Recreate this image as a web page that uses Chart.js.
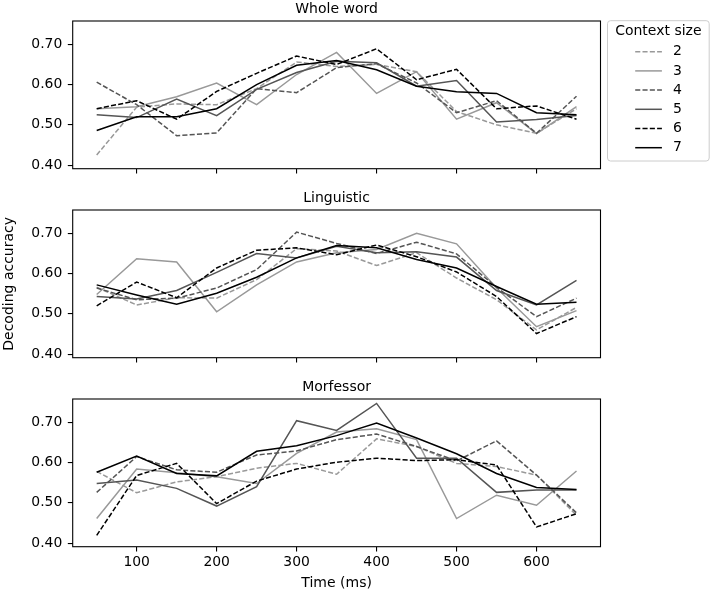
<!doctype html>
<html>
<head>
<title>Decoding accuracy by context size</title>
<script src="https://cdn.jsdelivr.net/npm/chart.js@4"></script>
<style>
  body { margin: 0; background: #fff; }
  #holder { position: relative; width: 711px; height: 592px; }
  #holder canvas { position: absolute; left: 0; }
</style>
</head>
<body>
<div id="holder">
  <canvas id="whole" width="711" height="189" style="top:0px"></canvas>
  <canvas id="ling" width="711" height="189" style="top:189px"></canvas>
  <canvas id="morf" width="711" height="214" style="top:378px"></canvas>
</div>

<script>
// x positions (ms) and tick values
const timesMs = [50, 100, 150, 200, 250, 300, 350, 400, 450, 500, 550, 600, 650];
const xTicks = [100, 200, 300, 400, 500, 600];
const yTicks = [0.40, 0.50, 0.60, 0.70];
const contextSizes = ['2', '3', '4', '5', '6', '7'];

// one row per context size (2..7)
const wholeWord = [
  [0.425, 0.544, 0.552, 0.550, 0.590, 0.656, 0.645, 0.650, 0.632, 0.533, 0.500, 0.479, 0.540],
  [0.540, 0.545, 0.570, 0.604, 0.550, 0.625, 0.680, 0.578, 0.632, 0.514, 0.555, 0.478, 0.545],
  [0.606, 0.550, 0.473, 0.480, 0.590, 0.580, 0.642, 0.652, 0.604, 0.530, 0.560, 0.479, 0.571],
  [0.525, 0.518, 0.564, 0.523, 0.588, 0.630, 0.658, 0.654, 0.596, 0.610, 0.507, 0.513, 0.523],
  [0.540, 0.560, 0.514, 0.583, 0.628, 0.671, 0.650, 0.689, 0.612, 0.638, 0.540, 0.547, 0.514],
  [0.486, 0.520, 0.520, 0.540, 0.600, 0.648, 0.660, 0.637, 0.596, 0.582, 0.578, 0.530, 0.525]
];
const linguistic = [
  [0.566, 0.522, 0.540, 0.539, 0.585, 0.662, 0.656, 0.620, 0.652, 0.589, 0.535, 0.460, 0.516],
  [0.548, 0.637, 0.629, 0.505, 0.572, 0.629, 0.652, 0.660, 0.700, 0.674, 0.564, 0.468, 0.508],
  [0.564, 0.535, 0.539, 0.564, 0.610, 0.703, 0.675, 0.650, 0.678, 0.649, 0.566, 0.493, 0.539],
  [0.543, 0.537, 0.558, 0.603, 0.650, 0.639, 0.668, 0.652, 0.654, 0.641, 0.558, 0.522, 0.583],
  [0.520, 0.579, 0.540, 0.614, 0.658, 0.664, 0.647, 0.671, 0.642, 0.604, 0.543, 0.451, 0.493],
  [0.572, 0.547, 0.524, 0.551, 0.591, 0.639, 0.670, 0.664, 0.635, 0.614, 0.568, 0.524, 0.529]
];
const morfessor = [
  [0.578, 0.525, 0.552, 0.565, 0.586, 0.598, 0.571, 0.659, 0.640, 0.598, 0.590, 0.569, 0.469],
  [0.461, 0.584, 0.575, 0.565, 0.548, 0.623, 0.676, 0.684, 0.657, 0.461, 0.519, 0.494, 0.579],
  [0.526, 0.615, 0.582, 0.576, 0.619, 0.629, 0.657, 0.671, 0.640, 0.604, 0.654, 0.569, 0.475],
  [0.548, 0.557, 0.536, 0.492, 0.540, 0.704, 0.680, 0.747, 0.611, 0.611, 0.526, 0.532, 0.532],
  [0.419, 0.568, 0.598, 0.498, 0.554, 0.584, 0.601, 0.611, 0.605, 0.607, 0.594, 0.440, 0.473],
  [0.576, 0.616, 0.573, 0.567, 0.628, 0.642, 0.667, 0.698, 0.661, 0.622, 0.573, 0.538, 0.533]
];

const lineColors = ['#999999', '#999999', '#555555', '#555555', '#000000', '#000000'];
const dashed = [true, false, true, false, true, false];
const DASH = [5.1, 2.2];
const FONT = 'DejaVu Sans';

// axes box (matplotlib draws all four spines)
const frame = {
  id: 'frame',
  afterDatasetsDraw(chart) {
    const {ctx, chartArea: a} = chart;
    ctx.save();
    ctx.strokeStyle = '#000';
    ctx.lineWidth = 1.1;
    ctx.strokeRect(a.left, a.top, a.right - a.left, a.bottom - a.top);
    ctx.restore();
  }
};

// legend outside the axes, upper right
const legendBox = {
  id: 'legendBox',
  afterDraw(chart) {
    const {ctx, chartArea: a} = chart;
    const x0 = a.right + 7, y0 = a.top - 0.3, w = 101.7, h = 140.3;
    ctx.save();
    ctx.beginPath();
    ctx.roundRect(x0, y0, w, h, 3);
    ctx.fillStyle = 'rgba(255,255,255,0.8)';
    ctx.fill();
    ctx.strokeStyle = '#cccccc';
    ctx.lineWidth = 1;
    ctx.stroke();
    ctx.fillStyle = '#000';
    ctx.font = '14px "' + FONT + '"';
    ctx.textBaseline = 'middle';
    ctx.textAlign = 'center';
    ctx.fillText('Context size', x0 + w / 2, y0 + 11);
    ctx.textAlign = 'left';
    chart.data.datasets.forEach((ds, i) => {
      const y = y0 + 31 + i * 19.2;
      ctx.beginPath();
      ctx.setLineDash(ds.borderDash || []);
      ctx.strokeStyle = ds.borderColor;
      ctx.lineWidth = ds.borderWidth;
      ctx.moveTo(x0 + 27.7, y);
      ctx.lineTo(x0 + 54.4, y);
      ctx.stroke();
      ctx.setLineDash([]);
      ctx.fillText(ds.label, x0 + 65.4, y);
    });
    ctx.restore();
  }
};

function makePanel(id, title, rows, opt) {
  const datasets = rows.map((vals, i) => ({
    label: contextSizes[i],
    data: vals.map((v, j) => ({x: timesMs[j], y: v})),
    borderColor: lineColors[i],
    borderWidth: 1.5,
    borderDash: dashed[i] ? DASH : [],
    pointRadius: 0,
    tension: 0,
    fill: false,
    order: rows.length - i
  }));
  const tickFont = {family: FONT, size: 13.9};
  return new Chart(document.getElementById(id), {
    type: 'line',
    data: {datasets},
    plugins: opt.legend ? [frame, legendBox] : [frame],
    options: {
      responsive: false,
      animation: false,
      layout: {padding: {left: 0, right: 110.5, top: 0, bottom: 0}},
      plugins: {
        legend: {display: false},
        tooltip: {enabled: false},
        title: {
          display: true,
          text: title,
          color: '#000',
          fullSize: false,
          font: {family: FONT, size: 14, weight: 'normal'},
          padding: {top: 0.8, bottom: 3.4}
        }
      },
      scales: {
        x: {
          type: 'linear',
          min: 20,
          max: 680,
          afterBuildTicks: s => { s.ticks = xTicks.map(v => ({value: v})); },
          afterFit: s => { s.height = opt.xHeight; },
          border: {display: false},
          grid: {drawOnChartArea: false, drawTicks: true, tickLength: 4.9, color: '#000', lineWidth: 1.1},
          ticks: {display: !!opt.xLabels, color: '#000', padding: 2, maxRotation: 0, autoSkip: false, font: tickFont},
          title: {
            display: !!opt.xLabels,
            text: 'Time (ms)',
            color: '#000',
            font: {family: FONT, size: 14},
            padding: {top: 0, bottom: 0}
          }
        },
        y: {
          min: 0.391,
          max: 0.758,
          afterBuildTicks: s => { s.ticks = yTicks.map(v => ({value: v})); },
          afterFit: s => { s.width = 72.7; },
          border: {display: false},
          grid: {drawOnChartArea: false, drawTicks: true, tickLength: 4.9, color: '#000', lineWidth: 1.1},
          ticks: {color: '#000', padding: 5.5, autoSkip: false, font: tickFont, callback: v => v.toFixed(2)},
          title: {
            display: !!opt.yTitle,
            text: opt.yTitle || '',
            color: '#000',
            font: {family: FONT, size: 14},
            padding: {top: 1, bottom: 0}
          }
        }
      }
    }
  });
}

makePanel('whole', 'Whole word', wholeWord, {xHeight: 20.3, legend: true});
makePanel('ling', 'Linguistic', linguistic, {xHeight: 20.3, yTitle: 'Decoding accuracy'});
makePanel('morf', 'Morfessor', morfessor, {xHeight: 45.3, xLabels: true});
</script>
</body>
</html>
